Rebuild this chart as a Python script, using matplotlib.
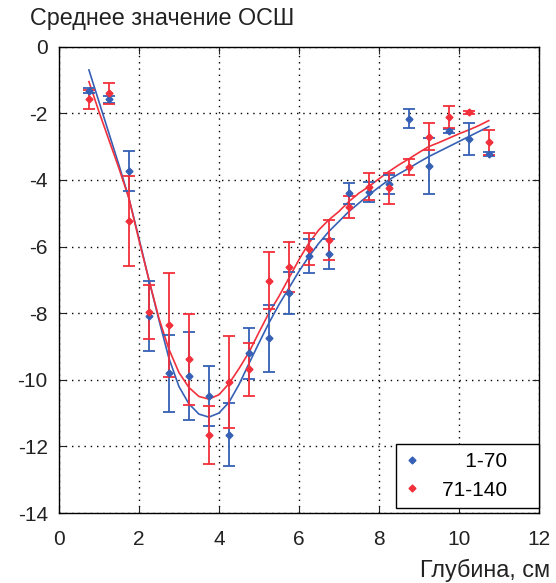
import numpy as np
import matplotlib.pyplot as plt
from matplotlib.lines import Line2D

# depth positions of measurements, cm
depth = [0.75, 1.25, 1.75, 2.25, 2.75, 3.25, 3.75, 4.25, 4.75, 5.25, 5.75,
         6.25, 6.75, 7.25, 7.75, 8.25, 8.75, 9.25, 9.75, 10.25, 10.75]

# series 1-70
snr_a = [-1.32, -1.58, -3.72, -8.09, -9.81, -9.89, -10.49, -11.65, -9.21, -8.76, -7.39,
         -6.27, -6.22, -4.40, -4.37, -4.13, -2.16, -3.58, -2.53, -2.78, -3.22]
err_a = [0.08, 0.10, 0.60, 1.06, 1.15, 1.32, 0.90, 0.94, 0.77, 1.00, 0.64,
         0.51, 0.46, 0.32, 0.30, 0.28, 0.28, 0.83, 0.05, 0.48, 0.05]

# series 71-140
snr_b = [-1.58, -1.40, -5.22, -7.97, -8.36, -9.39, -11.65, -10.07, -9.69, -7.02, -6.61,
         -6.06, -5.81, -4.80, -4.20, -4.25, -3.60, -2.70, -2.10, -1.97, -2.87]
err_b = [0.28, 0.31, 1.35, 0.82, 1.57, 1.37, 0.87, 1.38, 0.80, 0.85, 0.75,
         0.48, 0.60, 0.33, 0.40, 0.46, 0.24, 0.41, 0.33, 0.05, 0.38]

# fitted curves
fit_x = [0.75, 1.0, 1.25, 1.5, 1.75, 2.0, 2.25, 2.5, 2.75, 3.0, 3.25, 3.5, 3.75,
         4.0, 4.25, 4.5, 4.75, 5.0, 5.25, 5.5, 5.75, 6.0, 6.25, 6.5, 6.75, 7.0,
         7.25, 7.5, 7.75, 8.0, 8.25, 8.5, 8.75, 9.0, 9.25, 9.5, 9.75, 10.0,
         10.25, 10.5, 10.75]
fit_a = [-0.70, -1.65, -2.60, -3.55, -4.55, -5.75, -7.00, -8.20, -9.35, -10.20,
         -10.72, -11.03, -11.12, -11.00, -10.68, -10.15, -9.52, -8.90, -8.30,
         -7.75, -7.25, -6.75, -6.30, -5.90, -5.55, -5.25, -4.95, -4.70, -4.45,
         -4.22, -4.00, -3.82, -3.65, -3.47, -3.30, -3.15, -3.00, -2.85, -2.70,
         -2.55, -2.40]
fit_b = [-1.05, -1.95, -2.80, -3.65, -4.55, -5.80, -7.00, -8.15, -9.08, -9.78,
         -10.23, -10.50, -10.58, -10.45, -10.12, -9.67, -9.18, -8.58, -8.00,
         -7.50, -6.95, -6.40, -5.90, -5.50, -5.20, -4.95, -4.65, -4.40, -4.20,
         -3.97, -3.75, -3.55, -3.37, -3.18, -3.00, -2.88, -2.75, -2.62, -2.50,
         -2.37, -2.22]

blue = '#3560b5'
red = '#f2303c'

plt.rcParams['font.family'] = ['Liberation Sans', 'DejaVu Sans']
plt.rcParams['axes.unicode_minus'] = False
fig = plt.figure(figsize=(5.56, 5.83), dpi=100)
ax = fig.add_axes([0.106, 0.12, 0.863, 0.8])

ax.plot(fit_x, fit_a, color=blue, lw=1.2)
ax.plot(fit_x, fit_b, color=red, lw=1.2)
ax.errorbar(depth, snr_a, yerr=err_a, fmt='D', color=blue, ms=3.5,
            capsize=4.5, elinewidth=1.3, capthick=1.3)
ax.errorbar(depth, snr_b, yerr=err_b, fmt='D', color=red, ms=3.5,
            capsize=4.5, elinewidth=1.3, capthick=1.3)

ax.set_xlim(0, 12)
ax.set_ylim(-14, 0)
ax.set_xticks(range(0, 13, 2))
ax.set_yticks(range(-14, 1, 2))
ax.grid(True, color='black', linestyle=(0, (1, 3.5)), linewidth=1.0)
ax.tick_params(direction='in', top=True, right=True, labelsize=15, length=5,
               colors='#222222')
ax.tick_params(axis='x', pad=12)
ax.tick_params(axis='y', pad=8)
for s in ax.spines.values():
    s.set_linewidth(1.0)

handles = [Line2D([], [], ls='none', marker='D', ms=3.5, color=blue),
           Line2D([], [], ls='none', marker='D', ms=3.5, color=red)]
# figure spaces keep the labels right-aligned with a gap before the frame
labels = ['\u2007\u20071-70\u2007\u2007', '71-140\u2007\u2007']
leg = ax.legend(handles, labels, loc='lower right', bbox_to_anchor=(1.0, 0.011),
                fontsize=15, frameon=True, fancybox=False,
                handlelength=0.7, handletextpad=1.1, borderaxespad=0.0,
                borderpad=0.4, labelspacing=0.45)
leg.get_frame().set_edgecolor('black')
leg.get_frame().set_linewidth(1.0)
leg.get_frame().set_alpha(1)

fig.text(0.054, 0.968, 'Среднее значение ОСШ', fontsize=16.8, color='#222222',
         va='center', ha='left')
fig.text(0.99, 0.022, 'Глубина, см', fontsize=16.8, color='#222222',
         va='center', ha='right')

fig.savefig('out.png', dpi=100)
